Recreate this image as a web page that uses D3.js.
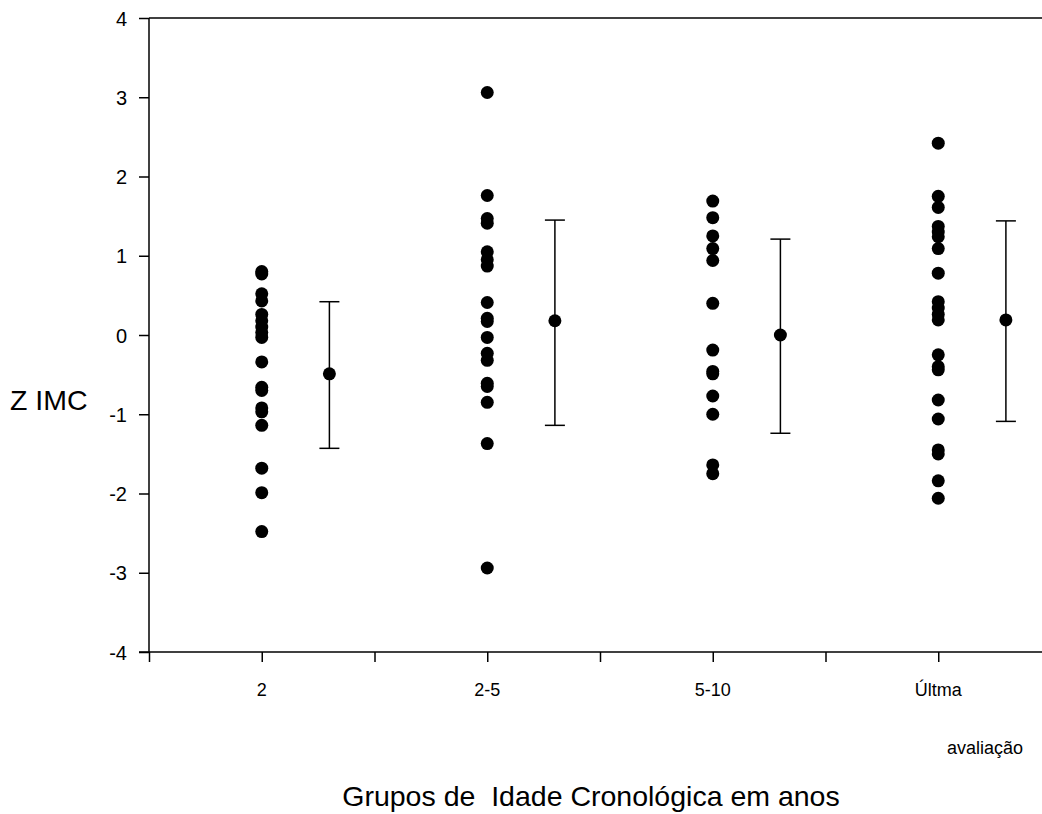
<!DOCTYPE html>
<html>
<head>
<meta charset="utf-8">
<style>
  body { margin: 0; background: #fff; }
  text { font-family: "Liberation Sans", Arial, sans-serif; fill: #000; }
</style>
</head>
<body>
<script src="https://cdn.jsdelivr.net/npm/d3@7/dist/d3.min.js"></script>
<script>

  // category labels, positions on the x scale
  const groups = ['2', '2-5', '5-10', 'Últma']
  const groupX = [1, 3, 5, 7]
  const meanOffset = 0.6

  // individual Z IMC values per group
  const g2 = [0.80, 0.77, 0.52, 0.43, 0.26, 0.18, 0.10, 0.03, -0.03, -0.34, -0.66, -0.70, -0.92, -0.97, -1.14, -1.68, -1.99, -2.48]
  const g25 = [3.06, 1.76, 1.47, 1.41, 1.05, 0.95, 0.87, 0.41, 0.21, 0.17, -0.03, -0.23, -0.32, -0.61, -0.65, -0.85, -1.37, -2.94]
  const g510 = [1.69, 1.48, 1.25, 1.09, 0.94, 0.40, -0.19, -0.46, -0.49, -0.77, -1.00, -1.64, -1.75]
  const gLast = [2.42, 1.75, 1.61, 1.37, 1.30, 1.24, 1.09, 0.78, 0.42, 0.34, 0.26, 0.19, -0.25, -0.40, -0.44, -0.82, -1.06, -1.45, -1.50, -1.84, -2.06]
  const values = [g2, g25, g510, gLast]

  // mean with lower / upper bar ends
  const means = [-0.49, 0.18, 0.00, 0.19]
  const lower = [-1.43, -1.14, -1.24, -1.09]
  const upper = [0.42, 1.45, 1.21, 1.44]

  const yTicks = [-4, -3, -2, -1, 0, 1, 2, 3, 4]
  const xTicks = [0, 1, 2, 3, 4, 5, 6, 7]

  const width = 1042, height = 814
  const plotLeft = 149, plotTop = 18, plotBottom = 652
  const dotR = 6.5

  const x = d3.scaleLinear().domain([0, 8]).range([plotLeft, plotLeft + 8 * 112.75])
  const y = d3.scaleLinear().domain([-4, 4]).range([plotBottom, plotTop])

  const svg = d3.select('body').append('svg')
      .attr('width', width)
      .attr('height', height)

  // top frame line
  svg.append('line')
      .attr('x1', plotLeft).attr('x2', width)
      .attr('y1', plotTop).attr('y2', plotTop)
      .style('stroke', '#000').style('stroke-width', 1.5)

  const yAxis = d3.axisLeft(y)
      .tickValues(yTicks)
      .tickSize(10)
      .tickPadding(12)
      .tickFormat(d => String(d))
  const gy = svg.append('g')
      .attr('transform', `translate(${plotLeft},0)`)
      .call(yAxis)
  gy.select('.domain').remove()
  gy.append('line')
      .attr('x1', 0).attr('x2', 0)
      .attr('y1', plotTop).attr('y2', plotBottom)
      .style('stroke', '#000').style('stroke-width', 1.5)
  gy.selectAll('.tick line').style('stroke-width', 1.5)
  gy.selectAll('.tick text')
      .style('font-size', '20px')
      .style('font-family', '"Liberation Sans", Arial, sans-serif')
      .attr('dy', '0.36em')

  const xAxis = d3.axisBottom(x).tickValues(xTicks).tickSize(10).tickFormat('')
  const gx = svg.append('g')
      .attr('transform', `translate(0,${plotBottom})`)
      .call(xAxis)
  gx.select('.domain').remove()
  gx.append('line')
      .attr('x1', plotLeft - 10).attr('x2', width)
      .attr('y1', 0).attr('y2', 0)
      .style('stroke', '#000').style('stroke-width', 1.5)
  gx.selectAll('.tick line').style('stroke-width', 1.5)

  svg.selectAll('.xlabel')
      .data(groups)
    .enter().append('text')
      .attr('class', 'xlabel')
      .attr('x', (d, i) => x(groupX[i]))
      .attr('y', 696)
      .style('text-anchor', 'middle')
      .style('font-size', '18px')
      .text(d => d)

  svg.append('text')
      .attr('x', 985)
      .attr('y', 754)
      .style('text-anchor', 'middle')
      .style('font-size', '18px')
      .text('avaliação')

  svg.append('text')
      .attr('x', 10)
      .attr('y', 410)
      .style('font-size', '28.5px')
      .text('Z IMC')

  svg.append('text')
      .attr('x', 591)
      .attr('y', 806)
      .style('text-anchor', 'middle')
      .style('font-size', '28.5px')
      .style('white-space', 'pre')
      .text('Grupos de  Idade Cronológica em anos')

  // raw points
  values.forEach((vals, i) => {
    svg.selectAll(`.pt${i}`)
        .data(vals)
      .enter().append('circle')
        .attr('class', `pt${i}`)
        .attr('cx', x(groupX[i]))
        .attr('cy', d => y(d))
        .attr('r', dotR)
        .style('fill', '#000')
  })

  // mean with error bars
  const bars = svg.selectAll('.ebar')
      .data(means)
    .enter().append('g')
      .attr('class', 'ebar')
      .attr('transform', (d, i) => `translate(${x(groupX[i] + meanOffset)},0)`)

  bars.append('line')
      .attr('y1', (d, i) => y(lower[i]))
      .attr('y2', (d, i) => y(upper[i]))
      .style('stroke', '#000').style('stroke-width', 1.5)
  bars.append('line')
      .attr('x1', -10).attr('x2', 10)
      .attr('y1', (d, i) => y(upper[i])).attr('y2', (d, i) => y(upper[i]))
      .style('stroke', '#000').style('stroke-width', 1.5)
  bars.append('line')
      .attr('x1', -10).attr('x2', 10)
      .attr('y1', (d, i) => y(lower[i])).attr('y2', (d, i) => y(lower[i]))
      .style('stroke', '#000').style('stroke-width', 1.5)
  bars.append('circle')
      .attr('cy', d => y(d))
      .attr('r', dotR)
      .style('fill', '#000')

</script>
</body>
</html>
